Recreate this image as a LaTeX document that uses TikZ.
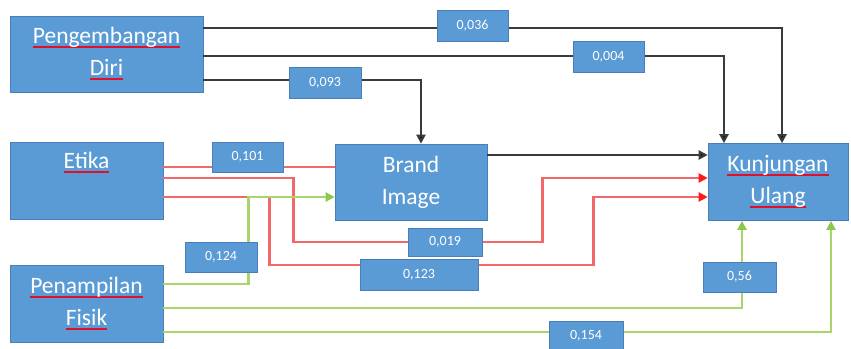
\documentclass[tikz,border=0pt]{standalone}
\usepackage{fontspec}
\setmainfont{Carlito}
\usetikzlibrary{arrows.meta}
\definecolor{boxblue}{HTML}{5B9BD5}
\definecolor{boxedge}{HTML}{4A7EBB}
\definecolor{lnblack}{HTML}{3A3A3A}
\definecolor{lnred}{HTML}{F26868}
\definecolor{tipred}{HTML}{FF1A1A}
\definecolor{lngreen}{HTML}{A9D66B}
\definecolor{tipgreen}{HTML}{8CC84B}
\definecolor{squig}{HTML}{E0102A}
\newsavebox\splbox
\newcommand\spl[1]{\sbox\splbox{#1}\rlap{{\color{squig}\rule[-0.4ex]{\wd\splbox}{2pt}}}\usebox\splbox}
\tikzset{
  var/.style={draw=boxedge, line width=0.6pt, fill=boxblue, text=white, inner sep=0pt,
    align=center, font=\fontsize{23.5}{32}\selectfont},
  coef/.style={draw=boxedge, line width=0.5pt, fill=boxblue, text=white, inner sep=0pt,
    font=\fontsize{14}{16}\selectfont},
  blk/.style={draw=lnblack, line width=2.4pt},
  redl/.style={draw=lnred, line width=2.4pt},
  grnl/.style={draw=lngreen, line width=2.4pt},
  blktip/.style={-{Triangle[length=9pt,width=9pt,fill=black]}},
  redtip/.style={-{Triangle[length=9pt,width=9pt,color=tipred]}},
  grntip/.style={-{Triangle[length=9pt,width=9pt,color=tipgreen]}},
}
\begin{document}
\begin{tikzpicture}[x=1pt,y=-1pt]
\useasboundingbox (0,0) rectangle (851,348);
% variables
\node[var, minimum width=193pt, minimum height=76pt] (pd) at (106.5,54) {\spl{Pengembangan}\\ \spl{Diri}};
\node[var, minimum width=153pt, minimum height=77pt] (et) at (86.5,181) {\spl{Etika}\\ \strut};
\node[var, minimum width=153pt, minimum height=77pt] (pf) at (86.5,303.5) {\spl{Penampilan}\\ \spl{Fisik}};
\node[var, minimum width=152pt, minimum height=76pt] (bi) at (411,182) {Brand\\ Image};
\node[var, minimum width=140pt, minimum height=77pt] (ku) at (778,182) {\spl{Kunjungan}\\ \spl{Ulang}};
% black connectors
\draw[blk, blktip] ([yshift=26pt]pd.east) -| ([xshift=4pt]ku.north);
\draw[blk, blktip] ([yshift=-2pt]pd.east) -| ([xshift=-54pt]ku.north);
\draw[blk, blktip] ([yshift=-26pt]pd.east) -| ([xshift=10pt]bi.north);
\draw[blk, blktip] ([yshift=27pt]bi.east) coordinate (b1) -- (ku.west |- b1);
% red connectors
\draw[redl] ([yshift=14pt]et.east) coordinate (r1) -- (bi.west |- r1);
\draw[redl, redtip] ([yshift=3pt]et.east) coordinate (r2) -- ++(130pt,0) -- ++(0,-64pt) -- ++(249pt,0) -- ++(0,64pt) -- (ku.west |- r2);
\draw[redl, redtip] ([yshift=-16pt]et.east) coordinate (r3) -- ++(106pt,0) -- ++(0,-68pt) -- ++(324pt,0) -- ++(0,68pt) -- (ku.west |- r3);
% green connectors
\draw[grnl, grntip] ([yshift=19.5pt]pf.east) -- ++(85pt,0) |- ([yshift=-15pt]bi.west);
\draw[grnl, grntip] ([yshift=-4.5pt]pf.east) -| ([xshift=-36pt]ku.south);
\draw[grnl, grntip] ([yshift=-28.5pt]pf.east) -| ([xshift=53pt]ku.south);
% coefficients
\node[coef, minimum width=71pt, minimum height=31pt] (c036) at (472.5,25.5) {0,036};
\node[coef, minimum width=71pt, minimum height=31pt] (c004) at (608.5,56.5) {0,004};
\node[coef, minimum width=72pt, minimum height=31pt] (c093) at (325,82.5) {0,093};
\node[coef, minimum width=71pt, minimum height=30pt] (c101) at (247.5,157) {0,101};
\node[coef, minimum width=72pt, minimum height=30pt] (c124) at (221,257) {0,124};
\node[coef, minimum width=74pt, minimum height=28pt] (c019) at (445,242) {0,019};
\node[coef, minimum width=118pt, minimum height=31pt] (c123) at (419,274.5) {0,123};
\node[coef, minimum width=73pt, minimum height=30pt] (c56) at (739.5,277) {0,56};
\node[coef, minimum width=74pt, minimum height=29pt] (c154) at (586,335.5) {0,154};
\end{tikzpicture}
\end{document}
